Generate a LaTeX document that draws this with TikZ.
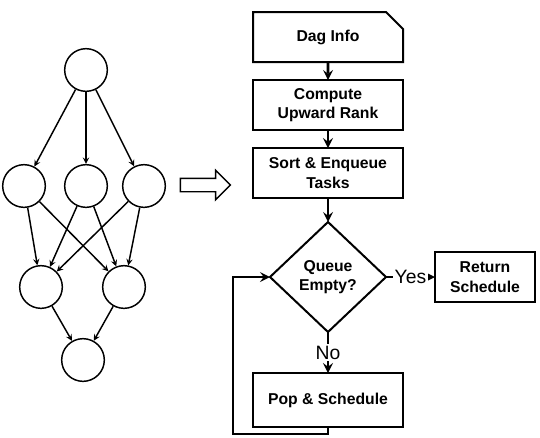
\documentclass[tikz,border=0pt]{standalone}
\usepackage{fontspec}
\setmainfont{Liberation Sans}
\usetikzlibrary{arrows,positioning,shapes}

\begin{document}
\begin{tikzpicture}[->,>=stealth, x=0.75pt, y=-0.75pt, node distance=13.5pt,
    every node/.style={font=\fontsize{14.5}{17}\selectfont},
    vertex/.style={circle, draw, line width=1.1pt, minimum size=32pt, inner sep=0pt},
    dagedge/.style={line width=1.1pt},
    block/.style={rectangle, draw, line width=1.5pt, minimum width=112.5pt, minimum height=37.5pt,
        inner sep=2pt, outer sep=0pt, align=center, font=\bfseries\fontsize{11.8}{14.5}\selectfont},
    decision/.style={diamond, draw, line width=1.5pt, minimum width=87pt, minimum height=82.5pt,
        inner sep=0pt, outer sep=0pt, align=center, font=\bfseries\fontsize{11.8}{14.5}\selectfont},
    flow/.style={line width=2.2pt},
    answer/.style={fill=white, inner sep=1pt}
    ]
\useasboundingbox (0,0) rectangle (540,437);
% DAG
\node[vertex] (v0) at (86,70)  {};
\node[vertex] (v1) at (24,186) {};
\node[vertex] (v2) at (86,186) {};
\node[vertex] (v3) at (144,186) {};
\node[vertex] (v4) at (41,287) {};
\node[vertex] (v5) at (124,287) {};
\node[vertex] (v6) at (83,360) {};
\path[dagedge]
(v0) edge (v1)
(v0) edge (v2)
(v0) edge (v3)
(v1) edge (v4)
(v1) edge (v5)
(v2) edge (v4)
(v2) edge (v5)
(v3) edge (v4)
(v3) edge (v5)
(v4) edge (v6)
(v5) edge (v6)
;
\node[single arrow, draw, line width=1.1pt, minimum height=37.5pt, inner sep=4.5pt,
    single arrow head extend=6pt, single arrow head indent=0pt] (conv) at (202,185) {};
% flow chart
\node[block, chamfered rectangle, chamfered rectangle corners=north east,
    chamfered rectangle xsep=6.75pt, chamfered rectangle ysep=6pt] (dag) at (328,37) {Dag Info};
\node[block, below=of dag]  (rank)  {Compute\\Upward Rank};
\node[block, below=of rank] (sort)  {Sort \& Enqueue\\Tasks};
\node[decision, below=18pt of sort]    (queue) {Queue\\Empty?};
\node[block, below=30.75pt of queue, minimum height=40.5pt] (pop) {Pop \& Schedule};
\node[block, right=36.75pt of queue, minimum width=75pt, minimum height=38pt] (ret) {Return\\Schedule};
\path[flow]
(dag)   edge (rank)
(rank)  edge (sort)
(sort)  edge (queue)
(queue) edge node[answer] {No} (pop)
(queue.east) edge node[answer] {Yes} (ret)
;
\draw[flow] (pop.south) -- ++(0,7) -- ++(-95,0) |- (queue.west);
\end{tikzpicture}
\end{document}
